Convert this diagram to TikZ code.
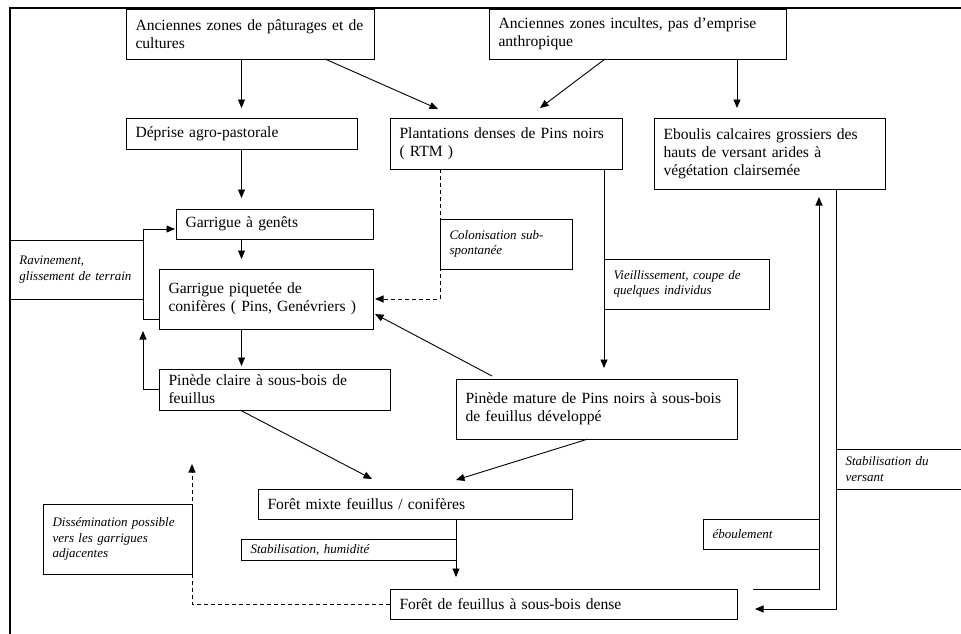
\documentclass[tikz,border=0pt]{standalone}
\usepackage{fontspec}
\setmainfont{Liberation Serif}
\usetikzlibrary{calc}
\usetikzlibrary{arrows.meta}

\begin{document}
\begin{tikzpicture}[x=1pt, y=-1pt, >={Triangle[length=8.5pt,width=7pt]},
  etat/.style={draw, line width=0.9pt, anchor=north west, align=left, inner xsep=9.5pt, inner ysep=0pt, outer sep=0pt, font=\fontsize{15.6}{18}\selectfont},
  cause/.style={etat, font=\fontsize{13}{15.5}\selectfont\itshape},
  fleche/.style={->, line width=0.9pt},
  pointille/.style={fleche, dash pattern=on 4pt off 3pt}]

  \useasboundingbox (0,0) rectangle (961,633);
  \clip (0,0) rectangle (961,633);

  % ---------- Etats de la vegetation ----------
  \node[etat, text width=229pt, minimum height=50pt] (pature) at (126,9) {Anciennes zones de pâturages et de\\cultures};
  \node[etat, text width=278pt, minimum height=50pt] (inculte) at (489,9) {Anciennes zones incultes, pas d’emprise\\anthropique};
  \node[etat, text width=212pt, minimum height=31pt] (deprise) at (126,118) {Déprise agro-pastorale};
  \node[etat, text width=213pt, minimum height=51pt] (plantation) at (390,118) {Plantations denses de Pins noirs\\( RTM )};
  \node[etat, text width=212pt, minimum height=71pt] (eboulis) at (654,118) {Eboulis calcaires grossiers des\\hauts de versant arides à\\végétation clairsemée};
  \node[etat, text width=178pt, minimum height=30pt] (genets) at (176,209) {Garrigue à genêts};
  \node[etat, text width=195pt, minimum height=60pt] (piquetee) at (159,269) {Garrigue piquetée de\\conifères ( Pins, Genévriers )};
  \node[etat, text width=212pt, minimum height=41pt] (claire) at (159,369) {Pinède claire à sous-bois de\\feuillus};
  \node[etat, text width=262pt, minimum height=60pt] (mature) at (456,379) {Pinède mature de Pins noirs à sous-bois\\de feuillus développé};
  \node[etat, text width=295pt, minimum height=30pt] (mixte) at (258,489) {Forêt mixte feuillus / conifères};
  \node[etat, text width=328pt, minimum height=30pt] (dense) at (390,589) {Forêt de feuillus à sous-bois dense};

  % ---------- Facteurs (italique) ----------
  \node[cause, text width=114pt, minimum height=59pt] (ravinement) at (10,240) {Ravinement,\\glissement de terrain};
  \node[cause, text width=113pt, minimum height=50pt] (colonisation) at (440,219) {Colonisation sub-\\spontanée};
  \node[cause, text width=146pt, minimum height=50pt] (vieillissement) at (604,259) {Vieillissement, coupe de\\quelques individus};
  \node[cause, text width=196pt, minimum height=21pt] (humidite) at (241,539) {Stabilisation, humidité};
  \node[cause, text width=130pt, minimum height=70pt] (dissemination) at (43,504) {Dissémination possible\\vers les garrigues\\adjacentes};
  \node[cause, text width=97pt, minimum height=30pt] (eboulement) at (703,519) {éboulement};
  \node[cause, text width=121pt, minimum height=40pt] (versant) at (836,449) {Stabilisation du\\versant};

  % ---------- Transitions ----------
  \coordinate (ebin) at ($(eboulis.north west)+(83,-10)$);
  \draw[fleche] (deprise.north |- pature.south) -- ($(deprise.north)+(0,-10)$);
  \draw[fleche] ($(pature.south)+(75,0)$) -- ($(plantation.north west)+(48,-9)$);
  \draw[fleche] ($(inculte.south west)+(116,0)$) -- ($(plantation.north west)+(150,-10)$);
  \draw[fleche] (inculte.south -| ebin) -- (ebin);
  \draw[fleche] (deprise.south) -- ($(genets.north -| deprise.south)+(0,-11)$);
  \draw[pointille] (colonisation.west |- plantation.south) -- (colonisation.west |- piquetee.east) -- ($(piquetee.east)+(2,0)$);
  \draw[fleche] (genets.south -| deprise.south) -- ($(piquetee.north -| deprise.south)+(0,-10)$);
  \draw[fleche] ($(piquetee.south west)+(0,-10)$) -| ($(ravinement.east |- genets.west)+(0,5)$) -- ($(genets.west)+(-1,5)$);
  \draw[fleche] (claire.west) -| ($(ravinement.east |- piquetee.south)+(0,2)$);
  \draw[fleche] (piquetee.south -| deprise.south) -- ($(claire.north -| deprise.south)+(0,-3)$);
  \draw[fleche] (vieillissement.west |- plantation.south) -- ($(vieillissement.west |- mature.north)+(0,-11)$);
  \draw[fleche] ($(mature.north west)+(36,-3)$) -- ($(piquetee.south east)+(2,-15)$);
  \draw[fleche] ($(claire.south west)+(81,0)$) -- ($(mixte.north west)+(114,-10)$);
  \draw[fleche] ($(mature.south west)+(132,0)$) -- ($(mixte.north west)+(198,-9)$);
  \draw[fleche] (humidite.east |- mixte.south) -- ($(humidite.east |- dense.north)+(0,-12)$);
  \draw[pointille] (dense.west) -| ($(dissemination.north east)+(0,-40)$);
  \draw[fleche] (versant.west |- eboulis.south) |- ($(dense.east)+(18,5)$);
  \draw[fleche] ($(dense.north east)+(16,0)$) -| ($(eboulement.east |- eboulis.south)+(0,8)$);

  % ---------- Cadre ----------
  \draw[line width=1.6pt] (10,640) -- (10,8) -- (970,8);

\end{tikzpicture}
\end{document}
